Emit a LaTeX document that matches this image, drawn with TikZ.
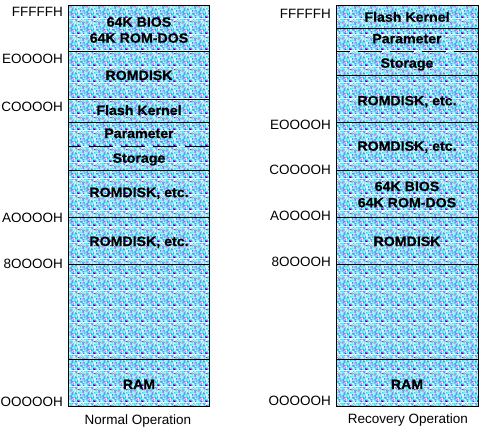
\documentclass[tikz,border=0pt]{standalone}
\usepackage{fontspec}
\setmainfont{Liberation Sans}
\newfontfamily\cellfont[FakeStretch=1.05,BoldFeatures={FakeBold=0.6}]{Liberation Sans}
\usetikzlibrary{patterns}

% colours of the dithered memory fill
\definecolor{dbase}{RGB}{160,215,240}
\definecolor{dcyan}{RGB}{0,255,255}
\definecolor{dwhite}{RGB}{255,255,255}
\definecolor{dgray}{RGB}{200,200,200}
\definecolor{dpale}{RGB}{160,235,245}
\definecolor{dmag}{RGB}{255,0,255}
\definecolor{dblue}{RGB}{0,0,190}

% 16x16 tile of randomly coloured pixels
\pgfmathsetseed{11}
\pgfdeclarepatterninherentlycolored{memdither}
  {\pgfpointorigin}{\pgfpoint{16pt}{16pt}}{\pgfpoint{16pt}{16pt}}
{%
  \pgfsetfillcolor{dbase}%
  \pgfpathrectangle{\pgfpointorigin}{\pgfpoint{16pt}{16pt}}%
  \pgfusepath{fill}%
  \foreach \i in {0,...,15}{%
    \foreach \j in {0,...,15}{%
      \pgfmathrandominteger{\k}{0}{11}%
      \ifcase\k\relax
        \pgfsetfillcolor{dcyan}\or
        \pgfsetfillcolor{dcyan}\or
        \pgfsetfillcolor{dcyan}\or
        \pgfsetfillcolor{dcyan}\or
        \pgfsetfillcolor{dwhite}\or
        \pgfsetfillcolor{dwhite}\or
        \pgfsetfillcolor{dwhite}\or
        \pgfsetfillcolor{dgray}\or
        \pgfsetfillcolor{dpale}\or
        \pgfsetfillcolor{dmag}\or
        \pgfsetfillcolor{dblue}\or
        \pgfsetfillcolor{dwhite}\fi
      \pgfpathrectangle{\pgfpoint{\i pt}{\j pt}}{\pgfpoint{1pt}{1pt}}%
      \pgfusepath{fill}%
    }%
  }%
}

\begin{document}
\begin{tikzpicture}[x=1pt,y=-1pt,
  addr/.style={font=\fontsize{13.5}{14}\selectfont, anchor=base east, inner sep=0pt},
  cell/.style={font=\cellfont\bfseries\fontsize{13.5}{14}\selectfont, anchor=base, inner sep=0pt},
  caption/.style={font=\fontsize{13.5}{14}\selectfont, anchor=base, inner sep=0pt},
  frame/.style={line width=1pt, pattern=memdither},
  divider/.style={line width=1pt},
  softdiv/.style={line width=1pt, dash pattern=on 24pt off 8pt}]
\useasboundingbox (0,0) rectangle (480,434);

% ---------------- normal operation map ----------------
\draw[frame] (68,5) rectangle (209,406);
\foreach \y in {51,99,122,170,217,264,359}
  \draw[divider] (68,\y) -- (209,\y);
\draw[softdiv] (209,146) -- (68,146);

\node[addr] (nF) at (63,16.7)  {FFFFFH};
\node[addr] (nE) at (63,63.3)  {EOOOOH};
\node[addr] (nC) at (63,111.7) {COOOOH};
\node[addr] (nA) at (63,222.3) {AOOOOH};
\node[addr] (n8) at (63,268.3) {8OOOOH};
\node[addr] (n0) at (63,406.7) {OOOOOH};

\node[cell] (nbios) at (139,26.7)  {64K BIOS};
\node[cell] (ndos)  at (139,42.7)  {64K ROM-DOS};
\node[cell] (nrd)   at (139,80)    {ROMDISK};
\node[cell] (nfk)   at (139,115)   {Flash Kernel};
\node[cell] (npar)  at (139,138)   {Parameter};
\node[cell] (nsto)  at (139,162.7) {Storage};
\node[cell] (nrd1)  at (139,197)   {ROMDISK, etc.};
\node[cell] (nrd2)  at (139,246)   {ROMDISK, etc.};
\node[cell] (nram)  at (139,389)   {RAM};

\node[caption] (ncap) at (138,424) {Normal Operation};

% ---------------- recovery operation map ----------------
\draw[frame] (336,5) rectangle (478,406);
\foreach \y in {28.7,75.3,122,170.5,217,264,359}
  \draw[divider] (336,\y) -- (478,\y);
\draw[softdiv] (478,51.7) -- (336,51.7);

\node[addr] (rF) at (331,18.3)  {FFFFFH};
\node[addr] (rE) at (331,129.3) {EOOOOH};
\node[addr] (rC) at (331,174)   {COOOOH};
\node[addr] (rA) at (331,220)   {AOOOOH};
\node[addr] (r8) at (331,266)   {8OOOOH};
\node[addr] (r0) at (331,405)   {OOOOOH};

\node[cell] (rfk)   at (407,21.7)  {Flash Kernel};
\node[cell] (rpar)  at (407,43.3)  {Parameter};
\node[cell] (rsto)  at (407,67.7)  {Storage};
\node[cell] (rrd1)  at (407,105.3) {ROMDISK, etc.};
\node[cell] (rrd2)  at (407,150.7) {ROMDISK, etc.};
\node[cell] (rbios) at (407,191)   {64K BIOS};
\node[cell] (rdos)  at (407,207.3) {64K ROM-DOS};
\node[cell] (rrd)   at (407,246)   {ROMDISK};
\node[cell] (rram)  at (407,389)   {RAM};

\node[caption] (rcap) at (408,423) {Recovery Operation};
\end{tikzpicture}
\end{document}
